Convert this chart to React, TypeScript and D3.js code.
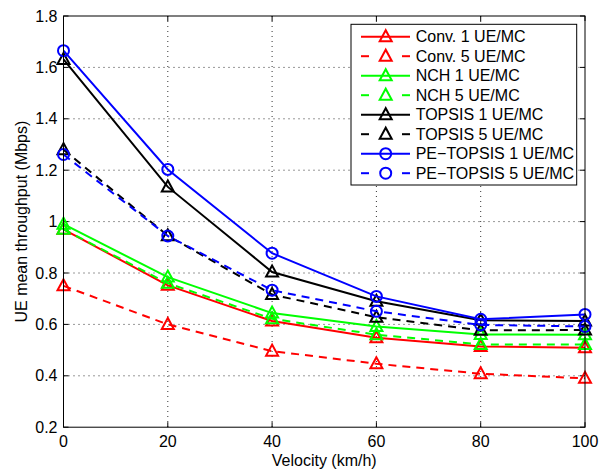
import React from "react";
import * as d3 from "d3";

const velocities = [0, 20, 40, 60, 80, 100];
const conv1 = [0.97, 0.752, 0.613, 0.548, 0.514, 0.509];
const conv5 = [0.75, 0.60, 0.496, 0.447, 0.408, 0.39];
const nch1 = [0.99, 0.784, 0.644, 0.592, 0.561, 0.56];
const nch5 = [0.97, 0.76, 0.622, 0.56, 0.522, 0.522];
const topsis1 = [1.631, 1.135, 0.804, 0.69, 0.616, 0.613];
const topsis5 = [1.28, 0.945, 0.716, 0.628, 0.577, 0.578];
const pe1 = [1.665, 1.203, 0.877, 0.709, 0.62, 0.639];
const pe5 = [1.261, 0.944, 0.733, 0.651, 0.598, 0.592];

const xTicks = [0, 20, 40, 60, 80, 100];
const yTicks = [0.2, 0.4, 0.6, 0.8, 1, 1.2, 1.4, 1.6, 1.8];

type Series = { name: string; values: number[]; color: string; dashed: boolean; marker: "tri" | "circ" };
const series: Series[] = [
  { name: "Conv. 1 UE/MC", values: conv1, color: "#ff0000", dashed: false, marker: "tri" },
  { name: "Conv. 5 UE/MC", values: conv5, color: "#ff0000", dashed: true, marker: "tri" },
  { name: "NCH 1 UE/MC", values: nch1, color: "#00ff00", dashed: false, marker: "tri" },
  { name: "NCH 5 UE/MC", values: nch5, color: "#00ff00", dashed: true, marker: "tri" },
  { name: "TOPSIS 1 UE/MC", values: topsis1, color: "#000000", dashed: false, marker: "tri" },
  { name: "TOPSIS 5 UE/MC", values: topsis5, color: "#000000", dashed: true, marker: "tri" },
  { name: "PE\u2212TOPSIS 1 UE/MC", values: pe1, color: "#0000ff", dashed: false, marker: "circ" },
  { name: "PE\u2212TOPSIS 5 UE/MC", values: pe5, color: "#0000ff", dashed: true, marker: "circ" },
];

const W = 610, H = 469;
const L = 63.5, R = 585, T = 16, B = 427.2;
const FONT = "'Liberation Sans', Arial, Helvetica, sans-serif";

function Marker({ type, x, y, color }: { type: "tri" | "circ"; x: number; y: number; color: string }) {
  if (type === "circ") {
    return <circle cx={x} cy={y} r={5.5} fill="none" stroke={color} strokeWidth={2} />;
  }
  const s = 6;
  const pts = `${x},${y - s - 0.5} ${x - s},${y + s * 0.75} ${x + s},${y + s * 0.75}`;
  return <polygon points={pts} fill="none" stroke={color} strokeWidth={2} strokeLinejoin="miter" />;
}

export default function App() {
  const x = d3.scaleLinear().domain([0, 100]).range([L, R]);
  const y = d3.scaleLinear().domain([0.2, 1.8]).range([B, T]);
  const line = d3.line<number>().x((_, i) => x(velocities[i])).y((d) => y(d));

  const legX = 351, legY = 24.3, legW = 225.7, legH = 160.7;
  const rowY0 = 36.7, rowStep = 19.5;

  return (
    <svg width={W} height={H} style={{ position: "absolute", left: 0, top: 0, background: "#fff" }}>
      <rect x={0} y={0} width={W} height={H} fill="#fff" />
      {xTicks.slice(1, -1).map((t) => (
        <line key={"gx" + t} x1={x(t)} x2={x(t)} y1={T} y2={B} stroke="#000" strokeWidth={1} strokeDasharray="1,4" opacity={0.8} />
      ))}
      {yTicks.slice(1, -1).map((t) => (
        <line key={"gy" + t} x1={L} x2={R} y1={y(t)} y2={y(t)} stroke="#000" strokeWidth={1} strokeDasharray="1,4" opacity={0.8} />
      ))}
      {xTicks.map((t) => (
        <g key={"tx" + t}>
          <line x1={x(t)} x2={x(t)} y1={B} y2={B - 5} stroke="#000" />
          <line x1={x(t)} x2={x(t)} y1={T} y2={T + 5} stroke="#000" />
          <text x={x(t)} y={446.7} textAnchor="middle" fontFamily={FONT} fontSize={16}>{t}</text>
        </g>
      ))}
      {yTicks.map((t) => (
        <g key={"ty" + t}>
          <line x1={L} x2={L + 5} y1={y(t)} y2={y(t)} stroke="#000" />
          <line x1={R} x2={R - 5} y1={y(t)} y2={y(t)} stroke="#000" />
          <text x={L - 6} y={y(t) + 5.5} textAnchor="end" fontFamily={FONT} fontSize={16}>{d3.format("")(+t.toFixed(1))}</text>
        </g>
      ))}
      {series.map((s) => (
        <g key={s.name}>
          <path d={line(s.values) || ""} fill="none" stroke={s.color} strokeWidth={2} strokeDasharray={s.dashed ? "8,6" : undefined} />
          {s.values.map((v, i) => (
            <Marker key={i} type={s.marker} x={x(velocities[i])} y={y(v)} color={s.color} />
          ))}
        </g>
      ))}
      <rect x={L} y={T} width={R - L} height={B - T} fill="none" stroke="#000" strokeWidth={1} />
      <rect x={legX} y={legY} width={legW} height={legH} fill="#fff" stroke="#000" strokeWidth={1} />
      {series.map((s, i) => {
        const ry = rowY0 + i * rowStep;
        return (
          <g key={"leg" + i}>
            {s.dashed ? (
              <>
                <line x1={361} x2={369} y1={ry} y2={ry} stroke={s.color} strokeWidth={2} />
                <line x1={402} x2={410} y1={ry} y2={ry} stroke={s.color} strokeWidth={2} />
              </>
            ) : (
              <line x1={361} x2={410} y1={ry} y2={ry} stroke={s.color} strokeWidth={2} />
            )}
            <Marker type={s.marker} x={385.7} y={ry} color={s.color} />
            <text x={415.7} y={ry + 5.5} fontFamily={FONT} fontSize={16}>{s.name}</text>
          </g>
        );
      })}
      <text x={(L + R) / 2} y={465.5} textAnchor="middle" fontFamily={FONT} fontSize={16}>Velocity (km/h)</text>
      <text transform={`translate(26.5,${(T + B) / 2}) rotate(-90)`} textAnchor="middle" fontFamily={FONT} fontSize={16}>UE mean throughput (Mbps)</text>
    </svg>
  );
}
